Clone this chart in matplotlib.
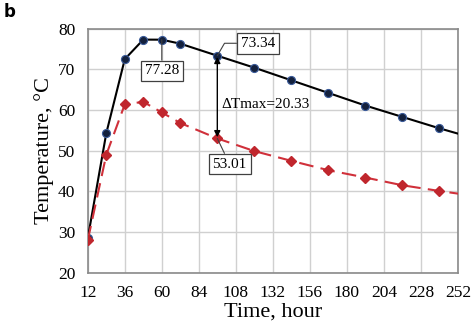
import numpy as np
import matplotlib.pyplot as plt

# data
hours = [12, 24, 36, 48, 60, 72, 96, 120, 144, 168, 192, 216, 240, 264]
t_core = [28.5, 54.3, 72.5, 77.3, 77.28, 76.3, 73.34, 70.4, 67.3, 64.2, 61.1, 58.3, 55.5, 52.9]
t_surf = [28.0, 49.0, 61.4, 62.0, 59.4, 56.8, 53.01, 49.9, 47.5, 45.2, 43.4, 41.5, 40.1, 38.8]
xticks = [12, 36, 60, 84, 108, 132, 156, 180, 204, 228, 252]
yticks = [20, 30, 40, 50, 60, 70, 80]

plt.rcParams['font.family'] = ['Liberation Serif', 'DejaVu Serif']

fig = plt.figure(figsize=(4.72, 3.29), dpi=100)
ax = fig.add_axes([0.186, 0.171, 0.784, 0.742])

ax.plot(hours, t_core, color='black', lw=1.5, marker='o', ms=5.8,
        mfc='#14213d', mec='#3b5b9a', mew=0.8, zorder=3)
ax.plot(hours, t_surf, color='#d0303a', lw=1.5, ls=(0, (7, 3.5)), marker='D', ms=4.8,
        mfc='#c0262d', mec='#c0262d', zorder=3)

ax.set_xlim(12, 252)
ax.set_ylim(20, 80)
ax.set_xticks(xticks)
ax.set_yticks(yticks)
ax.tick_params(length=0, labelsize=12.5, pad=9)
ax.grid(True, color='#d0d0d0', lw=1.0)
ax.set_axisbelow(True)
for s in ax.spines.values():
    s.set_color('#8a8a8a')
    s.set_linewidth(1.2)

ax.set_xlabel('Time, hour', fontsize=16, labelpad=1)
ax.set_ylabel('Temperature, \u00b0C', fontsize=16, labelpad=3)

# delta T arrow
ax.annotate('', xy=(96, t_core[6] - 0.3), xytext=(96, t_surf[6] + 0.3),
            arrowprops=dict(arrowstyle='<|-|>', color='black', lw=1.0,
                            mutation_scale=9, shrinkA=0, shrinkB=0), zorder=4)
ax.text(98.5, 61.4, '\u0394Tmax=20.33', fontsize=11, va='center', ha='left')

box = dict(boxstyle='square,pad=0.25', fc='white', ec='#404040', lw=0.9)
ax.annotate('77.28', xy=(60, 77.28), xytext=(60, 69.6), fontsize=11,
            ha='center', va='center', bbox=box,
            arrowprops=dict(arrowstyle='-', color='#404040', lw=0.8, shrinkA=0, shrinkB=0))
ax.annotate('73.34', xy=(96, 73.34), xytext=(122.3, 76.4), fontsize=11,
            ha='center', va='center', bbox=box,
            arrowprops=dict(arrowstyle='-', color='#404040', lw=0.8, shrinkA=0, shrinkB=0,
                            connectionstyle='angle,angleA=0,angleB=60,rad=0'))
ax.annotate('53.01', xy=(96, 53.01), xytext=(104, 46.7), fontsize=11,
            ha='center', va='center', bbox=box,
            arrowprops=dict(arrowstyle='-', color='#404040', lw=0.8, shrinkA=0, shrinkB=0))

fig.text(0.008, 0.965, 'b', fontsize=12, fontweight='bold', family='DejaVu Sans', va='center')

fig.savefig('out.png', dpi=100)
